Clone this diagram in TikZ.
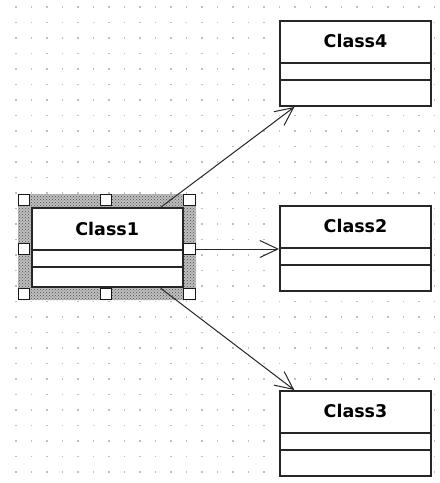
\documentclass[tikz,border=0pt]{standalone}
\usepackage{fontspec}
\setmainfont{DejaVu Sans}
\usetikzlibrary{calc,arrows.meta,patterns}
\tikzset{
  classbox/.style={draw=black!85, line width=2pt, fill=white, rectangle, minimum width=151pt, inner sep=0pt},
  divider/.style={draw=black!85, line width=1.9pt},
  classname/.style={font=\fontsize{17.5}{17.5}\selectfont\bfseries, text=black, inner sep=0pt},
  handle/.style={draw=black!90, line width=1.3pt, fill=white, rectangle, minimum size=11.5pt, inner sep=0pt},
  arr/.style={draw=black!85, line width=1pt, -{Straight Barb[length=18pt,width=17pt,line width=1pt]}},
  griddot/.style={fill=black!25}
}
\begin{document}
\begin{tikzpicture}[x=1pt,y=-1pt]
\useasboundingbox (0,0) rectangle (440,483);
\fill[white] (0,0) rectangle (440,483);
% grid dots
\foreach \i in {0,...,27}{
  \foreach \j in {0,...,30}{
    \fill[griddot] ({15+15.5*\i},{6+15.5*\j}) rectangle ++(1.5,1.5);
  }
}
% selection hatch
\fill[black!25] (18,194) rectangle (196,300);
\fill[pattern=crosshatch dots, pattern color=black!70] (18,194) rectangle (196,300);
% class boxes
\node[classbox, minimum height=79pt] (c1) at (107.2,247.8) {};
\node[classbox, minimum height=85pt] (c4) at (355.5,63.5) {};
\node[classbox, minimum height=85pt] (c2) at (355.5,248.5) {};
\node[classbox, minimum height=85pt] (c3) at (355.5,433.5) {};
% dividers and names
\draw[divider] ($(c1.north west)+(0,42.4)$) -- ($(c1.north east)+(0,42.4)$);
\draw[divider] ($(c1.north west)+(0,59.4)$) -- ($(c1.north east)+(0,59.4)$);
\node[classname] at ($(c1.north)+(0,21.2)$) {Class1};
\foreach \c/\t in {c4/Class4,c2/Class2,c3/Class3}{
  \draw[divider] ($(\c.north west)+(0,42.7)$) -- ($(\c.north east)+(0,42.7)$);
  \draw[divider] ($(\c.north west)+(0,59.7)$) -- ($(\c.north east)+(0,59.7)$);
  \node[classname] at ($(\c.north)+(0,21.2)$) {\t};
}
% handles
\node[handle] (htl) at (24,200) {};
\node[handle] (htm) at (106,200) {};
\node[handle] (htr) at (189.5,200) {};
\node[handle] (hml) at (24,249) {};
\node[handle] (hmr) at (189.5,249) {};
\node[handle] (hbl) at (24,294) {};
\node[handle] (hbm) at (106,294) {};
\node[handle] (hbr) at (189.5,294) {};
% connectors
\coordinate (s4) at ($(c1.north west)!0.85!(c1.north east)$);
\coordinate (e4) at ($(c4.south west)!0.1!(c4.south east)$);
\coordinate (s3) at ($(c1.south west)!0.85!(c1.south east)$);
\coordinate (e3) at ($(c3.north west)!0.1!(c3.north east)$);
\draw[arr] (s4) -- (e4);
\draw[arr] (s3) -- (e3);
\draw[arr] (hmr.east) -- (hmr.east -| c2.west);
\end{tikzpicture}
\end{document}
